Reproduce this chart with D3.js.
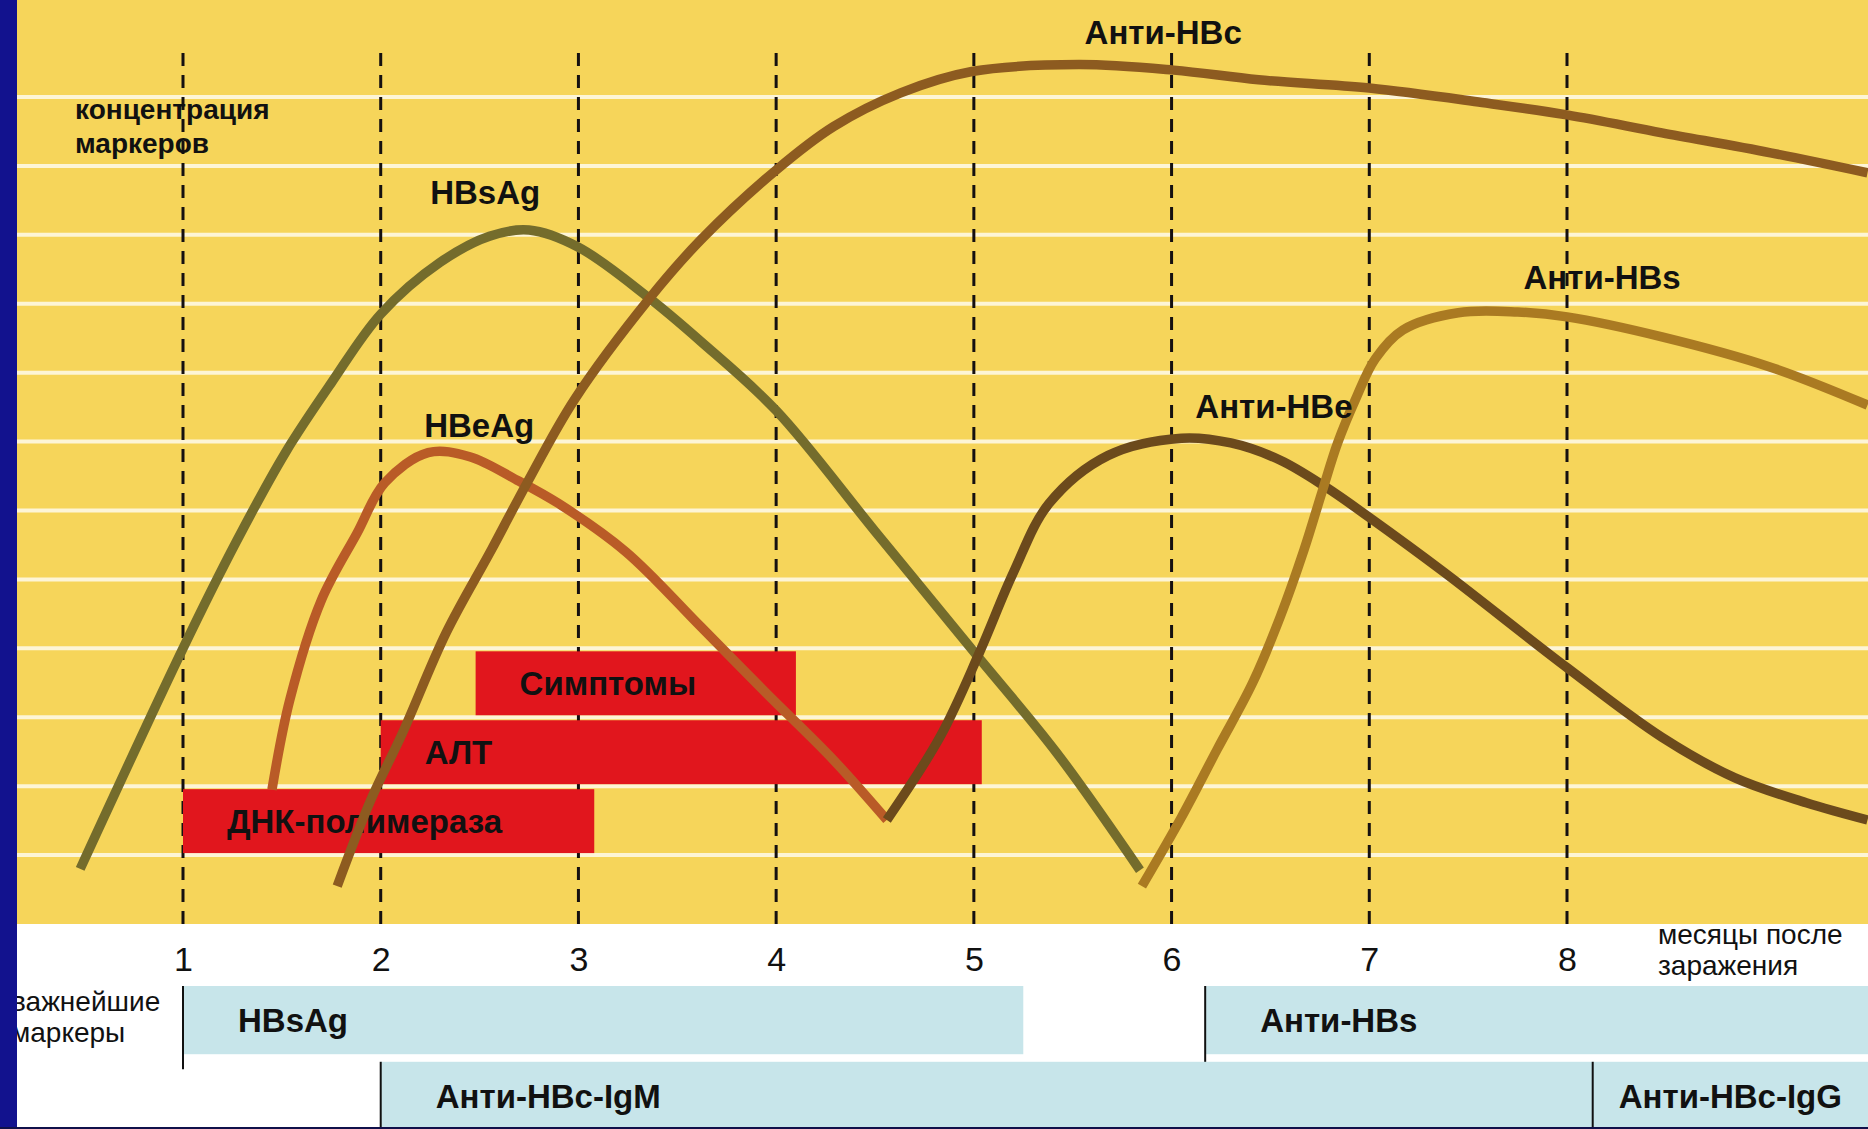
<!DOCTYPE html>
<html>
<head>
<meta charset="utf-8">
<script src="https://cdn.jsdelivr.net/npm/d3@7/dist/d3.min.js"></script>
<style>
body { margin: 0; background: #fff; }
svg { display: block; }
text { font-family: "Liberation Sans", Arial, sans-serif; fill: #111; }
</style>
</head>
<body>
<div class="container"></div>
<script>
const WIDTH = 1868;
const HEIGHT = 1129;
const PLOT_LEFT = 17;
const PLOT_BOTTOM = 924;

// months after infection (x ticks) and level grid
var months = [1, 2, 3, 4, 5, 6, 7, 8];
var gridLevels = [1, 2, 3, 4, 5, 6, 7, 8, 9, 10, 11, 12];

// marker curves: month / concentration level
var hbsagMonth = [0.48, 1.0, 1.27, 1.52, 1.75, 2.0, 2.3, 2.55, 2.75, 3.0, 3.35, 3.62, 4.0, 4.5, 5.0, 5.42, 5.84];
var hbsagLevel = [0.80, 4.00, 5.55, 6.85, 7.85, 8.85, 9.60, 9.98, 10.07, 9.82, 9.10, 8.45, 7.45, 5.70, 3.95, 2.48, 0.78];

var hbeagMonth = [1.45, 1.54, 1.70, 1.88, 2.02, 2.24, 2.45, 2.69, 2.90, 3.24, 3.62, 3.95, 4.29, 4.56];
var hbeagLevel = [1.95, 3.25, 4.70, 5.67, 6.40, 6.84, 6.78, 6.44, 6.10, 5.40, 4.31, 3.35, 2.38, 1.51];

var antiHbcMonth = [1.78, 1.95, 2.11, 2.33, 2.56, 2.74, 2.98, 3.36, 3.62, 4.0, 4.29, 4.63, 4.99, 5.53, 6.01, 6.44, 7.0, 7.57, 8.0, 8.48, 9.03, 9.52];
var antiHbcLevel = [0.55, 1.80, 2.77, 4.22, 5.43, 6.40, 7.61, 9.08, 9.93, 10.94, 11.57, 12.06, 12.37, 12.47, 12.39, 12.25, 12.13, 11.92, 11.74, 11.48, 11.19, 10.90];

var antiHbeMonth = [4.56, 4.83, 5.03, 5.20, 5.38, 5.68, 6.05, 6.30, 6.55, 6.78, 7.0, 7.38, 8.0, 8.48, 8.85, 9.21, 9.52];
var antiHbeLevel = [1.51, 2.72, 3.95, 5.10, 6.10, 6.80, 7.05, 6.98, 6.73, 6.34, 5.90, 5.10, 3.72, 2.71, 2.12, 1.76, 1.51];

var antiHbsMonth = [5.85, 6.05, 6.23, 6.41, 6.55, 6.67, 6.76, 6.84, 6.93, 7.03, 7.17, 7.45, 7.75, 8.0, 8.48, 9.03, 9.52];
var antiHbsLevel = [0.55, 1.55, 2.53, 3.50, 4.46, 5.43, 6.26, 6.98, 7.61, 8.20, 8.62, 8.87, 8.88, 8.81, 8.52, 8.08, 7.53];

var curveNames = ["HBsAg", "HBeAg", "Анти-HBc", "Анти-HBe", "Анти-HBs"];
var labelMonth = [2.25, 2.22, 5.56, 6.12, 7.78];
var labelLevel = [10.45, 7.07, 12.77, 7.34, 9.22];

// red bars: clinical findings (start / end month, band level)
var clinicalNames = ["Симптомы", "АЛТ", "ДНК-полимераза"];
var clinicalStart = [2.48, 2.0, 1.0];
var clinicalEnd = [4.10, 5.04, 3.08];
var clinicalLevel = [4, 3, 2];

// bottom bars: most important markers
var markerNames = ["HBsAg", "Анти-HBs", "Анти-HBc-IgM", "Анти-HBc-IgG"];
var markerStart = [1.0, 6.17, 2.0, 8.13];
var markerEnd = [5.25, 9.7, 8.13, 9.7];
var markerRow = [0, 0, 1, 1];

var colours = ["#746c2c", "#b95b27", "#8d5b20", "#6c4a1c", "#aa7a22"];

var svg, x, y;

function createChart() {
    svg = d3.select('.container').append('svg')
        .attr('width', WIDTH)
        .attr('height', HEIGHT);

    x = d3.scaleLinear().domain([1, 8]).range([183, 1567]);
    y = d3.scaleLinear().domain([0, 12]).range([PLOT_BOTTOM, 97]);

    // yellow paper
    svg.append('rect')
        .attr('x', PLOT_LEFT).attr('y', 0)
        .attr('width', WIDTH - PLOT_LEFT).attr('height', PLOT_BOTTOM)
        .attr('fill', '#f6d55a');

    svg.append('g').selectAll('line')
        .data(gridLevels).enter().append('line')
        .attr('x1', PLOT_LEFT).attr('x2', WIDTH)
        .attr('y1', y).attr('y2', y)
        .attr('stroke', '#fdf5d6')
        .attr('stroke-width', 4);

    svg.append('g').selectAll('line')
        .data(months).enter().append('line')
        .attr('x1', x).attr('x2', x)
        .attr('y1', 53).attr('y2', PLOT_BOTTOM)
        .attr('stroke', '#151010')
        .attr('stroke-width', 3)
        .attr('stroke-dasharray', '13,9');

    // x axis: tick labels only
    var xAxis = d3.axisBottom(x).tickValues(months).tickFormat(d3.format('d')).tickSize(0).tickPadding(0);
    var ax = svg.append('g')
        .attr('transform', 'translate(0,' + PLOT_BOTTOM + ')')
        .call(xAxis);
    ax.select('.domain').remove();
    ax.selectAll('text')
        .attr('dy', 0)
        .attr('y', 47)
        .style('font-size', '34px')
        .style('font-family', '"Liberation Sans", Arial, sans-serif')
        .attr('fill', '#111');

    createClinicalBars();
    createCurves();
    createMarkerBars();
    createTexts();
}

function createClinicalBars() {
    var g = svg.append('g');
    var bars = g.selectAll('g').data(clinicalNames).enter().append('g');
    bars.append('rect')
        .attr('x', function(d, i) { return x(clinicalStart[i]); })
        .attr('y', function(d, i) { return y(clinicalLevel[i]) + 3; })
        .attr('width', function(d, i) { return x(clinicalEnd[i]) - x(clinicalStart[i]); })
        .attr('height', function(d, i) { return y(clinicalLevel[i] - 1) - y(clinicalLevel[i]) - 5; })
        .attr('fill', '#e1161d');
    bars.append('text')
        .attr('x', function(d, i) { return x(clinicalStart[i]) + 44; })
        .attr('y', function(d, i) { return (y(clinicalLevel[i]) + y(clinicalLevel[i] - 1)) / 2 + 12; })
        .style('font-size', '33px')
        .style('font-weight', 'bold')
        .text(function(d) { return d; });
}

function createCurves() {
    var monthsList = [hbsagMonth, hbeagMonth, antiHbcMonth, antiHbeMonth, antiHbsMonth];
    var levelsList = [hbsagLevel, hbeagLevel, antiHbcLevel, antiHbeLevel, antiHbsLevel];
    var series = curveNames.map(function(name, i) {
        return monthsList[i].map(function(m, j) { return [m, levelsList[i][j]]; });
    });

    var line = d3.line()
        .curve(d3.curveCatmullRom.alpha(0.5))
        .x(function(d) { return x(d[0]); })
        .y(function(d) { return y(d[1]); });

    svg.append('g').selectAll('path')
        .data(series).enter().append('path')
        .attr('d', line)
        .attr('fill', 'none')
        .attr('stroke', function(d, i) { return colours[i]; })
        .attr('stroke-width', 9.5)
        .attr('stroke-linejoin', 'round');

    svg.append('g').selectAll('text')
        .data(curveNames).enter().append('text')
        .attr('x', function(d, i) { return x(labelMonth[i]); })
        .attr('y', function(d, i) { return y(labelLevel[i]); })
        .style('font-size', '33px')
        .style('font-weight', 'bold')
        .text(function(d) { return d; });
}

function createMarkerBars() {
    var row = d3.scaleBand().domain([0, 1]).range([986, 1130]).paddingInner(0.1);
    var g = svg.append('g');
    var bars = g.selectAll('g').data(markerNames).enter().append('g');
    bars.append('rect')
        .attr('x', function(d, i) { return x(markerStart[i]); })
        .attr('y', function(d, i) { return row(markerRow[i]); })
        .attr('width', function(d, i) { return x(markerEnd[i]) - x(markerStart[i]); })
        .attr('height', row.bandwidth())
        .attr('fill', '#c7e5ea');
    bars.append('line')
        .attr('x1', function(d, i) { return x(markerStart[i]); })
        .attr('x2', function(d, i) { return x(markerStart[i]); })
        .attr('y1', function(d, i) { return row(markerRow[i]); })
        .attr('y2', function(d, i) { return row(markerRow[i]) + row.bandwidth() + 15; })
        .attr('stroke', '#111')
        .attr('stroke-width', 2);
    bars.append('text')
        .attr('y', function(d, i) { return row(markerRow[i]) + row.bandwidth() / 2 + 12; })
        .style('font-size', '33px')
        .style('font-weight', 'bold')
        .text(function(d) { return d; })
        .attr('x', function(d, i) {
            var w = x(markerEnd[i]) - x(markerStart[i]);
            if (markerEnd[i] > 9.5) w = WIDTH - x(markerStart[i]);
            var pad = Math.min(55, (w - this.getComputedTextLength()) / 2);
            return x(markerStart[i]) + pad;
        });
}

function createTexts() {
    var notes = [
        {x: 75, y: 119, t: 'концентрация', bold: true, size: 28},
        {x: 75, y: 153, t: 'маркеров', bold: true, size: 28},
        {x: 1658, y: 944, t: 'месяцы после', size: 28},
        {x: 1658, y: 975, t: 'заражения', size: 28},
        {x: 11, y: 1011, t: 'важнейшие', size: 28},
        {x: 11, y: 1042, t: 'маркеры', size: 28}
    ];
    svg.append('g').selectAll('text')
        .data(notes).enter().append('text')
        .attr('x', function(d) { return d.x; })
        .attr('y', function(d) { return d.y; })
        .style('font-size', function(d) { return d.size + 'px'; })
        .style('font-weight', function(d) { return d.bold ? 'bold' : 'normal'; })
        .text(function(d) { return d.t; });

    // slide background strip on the left
    svg.append('rect')
        .attr('x', 0).attr('y', 0)
        .attr('width', PLOT_LEFT).attr('height', HEIGHT)
        .attr('fill', '#12128e');
    svg.append('rect')
        .attr('x', 0).attr('y', HEIGHT - 2)
        .attr('width', WIDTH).attr('height', 2)
        .attr('fill', '#10104a');
}

window.onload = function () {
    createChart();
};
</script>
</body>
</html>
